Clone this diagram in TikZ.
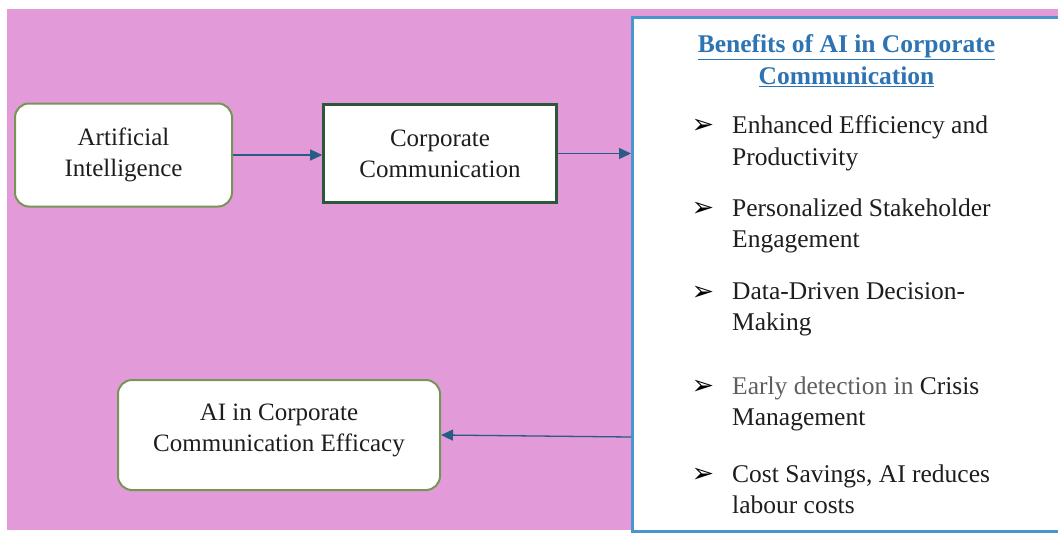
\documentclass[tikz,border=0pt]{standalone}
\usepackage{fontspec}
\setmainfont{Liberation Serif}
\newfontfamily\dingfont{DejaVu Sans}
\usetikzlibrary{positioning}
\usetikzlibrary{calc}
\usetikzlibrary{arrows.meta}

\definecolor{pinkbg}{RGB}{226,154,216}
\definecolor{panelblue}{RGB}{72,150,205}
\definecolor{boxgreen}{RGB}{118,150,88}
\definecolor{darkgreen}{RGB}{44,88,58}
\definecolor{linkblue}{RGB}{40,92,135}
\definecolor{titleblue}{RGB}{46,116,181}
\definecolor{itemtext}{RGB}{30,30,30}
\definecolor{earlygray}{RGB}{95,95,95}

\begin{document}
\begin{tikzpicture}[x=1pt,y=-1pt,
    boxfont/.style={font=\fontsize{25}{31}\selectfont,text=itemtext,align=center},
    roundbox/.style={draw=boxgreen,line width=2pt,fill=white,rounded corners=14pt},
    plainbox/.style={draw=darkgreen,line width=2.6pt,fill=white},
    link/.style={draw=linkblue,line width=1.3pt,-{Triangle[length=12pt,width=11pt]}}]
    \useasboundingbox (0,0) rectangle (1058,533);
    \clip (0,0) rectangle (1058,533);
    \fill[pinkbg] (7,9) rectangle (1058,530);

    % left column
    \node[roundbox,boxfont,minimum width=217pt,minimum height=103pt] (ai) at (123.5,155) {Artificial\\Intelligence};
    \node[plainbox,boxfont,minimum width=233pt,minimum height=98pt] (cc) at (440,153.5) {Corporate\\Communication};
    \node[roundbox,minimum width=322pt,minimum height=110pt] (efficacy) at (279,435) {};
    \node[boxfont] (efficacy text) at ([yshift=5pt]efficacy.center) {AI in Corporate\\Communication Efficacy};

    % benefits panel, runs off the right side
    \node[draw=panelblue,line width=2.5pt,fill=white,anchor=north west,minimum width=440pt,minimum height=514pt] (benefits) at (631,16) {};
    \node[anchor=north,inner sep=0pt,align=center,text=titleblue,font=\bfseries\fontsize{25.5}{32}\selectfont] (title) at (846.5,34.5)
        {\underline{Benefits of AI in Corporate}\\\underline{Communication}};
    \foreach \ybase/\itemtext [count=\i] in {133/{Enhanced Efficiency and\\Productivity},
            216/{Personalized Stakeholder\\Engagement},
            300/{Data-Driven Decision-\\Making},
            394/{{\color{earlygray}Early detection in} Crisis\\Management},
            482/{Cost Savings, AI reduces\\labour costs}} {
        \node[anchor=base,inner sep=0pt,text=black,font=\dingfont\fontsize{27}{27}\selectfont] (mark\i) at (703,\ybase) {➢};
        \node[anchor=north west,inner sep=0pt,align=left,text=itemtext,font=\fontsize{25.5}{31.5}\selectfont] (item\i) at (732,\ybase-17.6) {\itemtext};
    }

    % connectors
    \draw[link] (ai.east) -- (ai.east -| cc.west);
    \draw[link] (cc.east) -- (cc.east -| benefits.west);
    \draw[link] (benefits.west |- 437,437) -- (efficacy.east);
\end{tikzpicture}
\end{document}
